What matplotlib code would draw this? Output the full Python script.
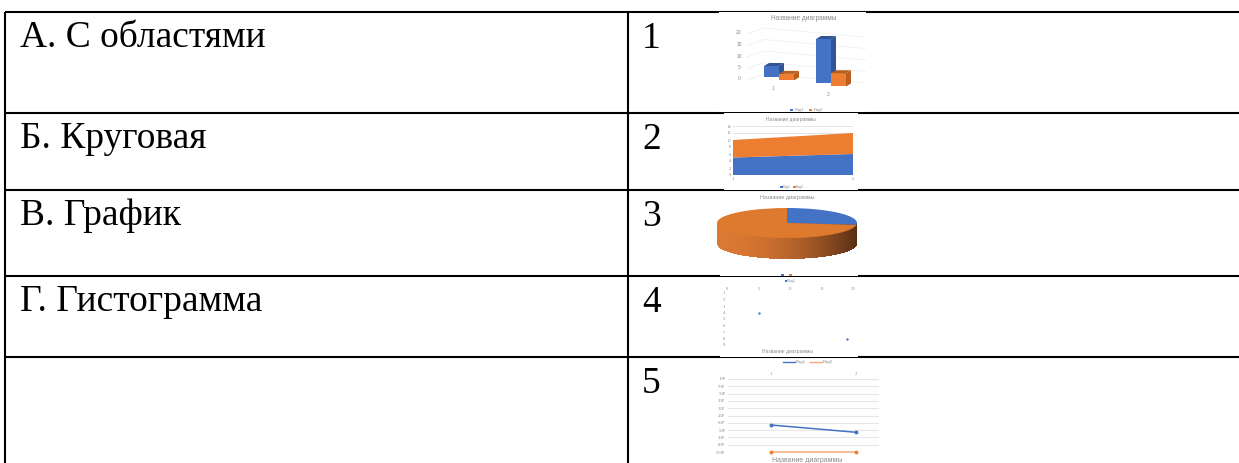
import numpy as np
import matplotlib
matplotlib.use("Agg")
import matplotlib.pyplot as plt
from matplotlib.patches import Rectangle, Polygon, Ellipse

W, H = 1239, 463

row_lines = [12, 113, 190, 276, 357]
col_lines = [5, 628]
left_labels = ["А. С областями", "Б. Круговая", "В. График", "Г. Гистограмма"]
right_labels = ["1", "2", "3", "4", "5"]

chart_title = "Название диаграммы"
series_names = ["Ряд1", "Ряд2"]
bar_ticks = ["20", "15", "10", "5", "0"]
bar_series1 = [5, 20]
bar_series2 = [3, 6]
area_series1 = [5, 6]
area_series2 = [5, 6]
area_ticks = [0, 2, 4, 6, 8, 10, 12, 14]
pie_values = [27, 73]
scatter_x = [5, 19]
scatter_y = [4, 8]
line_ticks = ["10Р", "70Р", "50Р", "30Р", "35Р", "25Р", "60Р", "50Р", "30Р", "80Р", "500Р"]
line_series1 = [6.3, 7.3]
line_series2 = [10, 10]

BLUE = "#4472c4"
ORANGE = "#ed7d31"
GREY = "#8a8a8a"

plt.rcParams["font.family"] = ["Liberation Serif", "DejaVu Serif"]
fig = plt.figure(figsize=(W / 100, H / 100), dpi=100)


def box(x0, y0, x1, y1):
    # axes placed with picture pixels, y going down
    ax = fig.add_axes([x0 / W, 1 - y1 / H, (x1 - x0) / W, (y1 - y0) / H])
    return ax


def pixel_box(x0, y0, x1, y1):
    ax = box(x0, y0, x1, y1)
    ax.set_xlim(x0, x1)
    ax.set_ylim(y1, y0)
    ax.axis("off")
    return ax


def small(x, y, s, size=3.2, color=GREY, ha="center"):
    fig.text(x / W, 1 - y / H, s, fontsize=size, color=color, ha=ha, va="center",
             family=["Liberation Sans", "DejaVu Sans"], zorder=20)


# table
tab = pixel_box(0, 0, W, H)
for y in row_lines:
    tab.plot([col_lines[0], W], [y, y], color="black", lw=1.5, solid_capstyle="butt")
for x in col_lines:
    tab.plot([x, x], [row_lines[0], H], color="black", lw=1.5, solid_capstyle="butt")
for y, s in zip(row_lines, left_labels):
    tab.text(20, y + 35, s, fontsize=27, va="baseline", ha="left", color="black")
for y, s in zip(row_lines, right_labels):
    tab.text(642, y + 36, s, fontsize=27, va="baseline", ha="left", color="black")
# white picture backgrounds sit over the table lines
for x0, y0, x1, y1 in [(719, 12, 866, 112), (724, 113, 858, 190), (720, 192, 858, 276),
                       (720, 277, 858, 357)]:
    tab.add_patch(Rectangle((x0, y0), x1 - x0, y1 - y0, color="white", zorder=5, lw=0))

# 1: 3d bars, faked with flat faces
a1 = pixel_box(719, 12, 866, 112)
small(804, 18, chart_title, 4.7)
for k, s in enumerate(bar_ticks):
    yy = 33 + k * 11.5
    small(739, yy, s, 3.6)
    a1.plot([747, 764, 866], [yy + 1, yy - 5, yy + 4], color="#ededed", lw=0.5)
bar_bottoms = [77, 83]
scale = 2.2
for i, (v1, v2, x) in enumerate(zip(bar_series1, bar_series2, [764, 816])):
    for v, dx, col, dark in [(v1, 0, BLUE, "#2f5597"), (v2, 15, ORANGE, "#b85f20")]:
        b = bar_bottoms[i] + dx * 0.23
        t = b - v * scale
        xx = x + dx
        a1.add_patch(Rectangle((xx, t), 15, b - t, color=col, lw=0, zorder=3))
        a1.add_patch(Polygon([(xx, t), (xx + 5, t - 3), (xx + 20, t - 3), (xx + 15, t)], color=dark, lw=0, zorder=3))
        a1.add_patch(Polygon([(xx + 15, t), (xx + 20, t - 3), (xx + 20, b - 3), (xx + 15, b)], color=dark, lw=0, zorder=3))
small(773, 88, "1", 3.6)
small(828, 95, "2", 3.6)
a1.add_patch(Rectangle((790, 109), 3, 2, color=BLUE, lw=0))
a1.add_patch(Rectangle((809, 109), 3, 2, color=ORANGE, lw=0))
small(799, 110, series_names[0], 3)
small(818, 110, series_names[1], 3)

# 2: stacked area
a2 = box(733, 126, 853, 175)
a2.stackplot([1, 2], area_series1, area_series2, colors=[BLUE, ORANGE], zorder=3)
a2.set_xlim(1, 2)
a2.set_ylim(0, 14)
a2.set_yticks(area_ticks)
a2.set_xticks([1, 2])
a2.tick_params(labelsize=3.3, length=0, pad=1.5, colors=GREY)
a2.grid(axis="y", color="#e3e3e3", lw=0.7)
a2.set_axisbelow(True)
for s in a2.spines.values():
    s.set_visible(False)
small(791, 119, chart_title, 3.5)
leg2 = pixel_box(776, 184, 810, 190)
leg2.add_patch(Rectangle((780, 186), 3, 2, color=BLUE, lw=0))
leg2.add_patch(Rectangle((793, 186), 3, 2, color=ORANGE, lw=0))
small(787, 187, series_names[0], 2.5)
small(800, 187, series_names[1], 2.5)

# 3: pie with a thick edge
a3 = pixel_box(714, 192, 860, 276)
small(787, 197, chart_title, 3.9)
cx, cy, rx, ry = 787, 223, 70, 15
depth = 21
edges = np.linspace(cx - rx, cx + rx, 281)
for x0, x1 in zip(edges[:-1], edges[1:]):
    mid = (x0 + x1) / 2
    u = (mid - (cx - rx)) / (2 * rx)
    low = cy + depth + ry * np.sqrt(max(0, 1 - ((mid - cx) / rx) ** 2))
    shade = (0.86 - 0.52 * u ** 2, 0.47 - 0.29 * u ** 2, 0.2 - 0.12 * u ** 2)
    a3.add_patch(Rectangle((x0, cy), x1 - x0 + 0.2, low - cy, color=shade, lw=0, zorder=2))
a3_top = box(cx - rx, cy - ry, cx + rx, cy + ry)
a3_top.pie(pie_values, colors=[BLUE, "#dd7a2e"], startangle=90, counterclock=False, radius=1.0)
a3_top.set_aspect("auto")
a3_top.set_xlim(-1, 1)
a3_top.set_ylim(-1, 1)
a3_top.axis("off")
a3_top.patch.set_alpha(0)
a3.add_patch(Rectangle((781, 274), 3, 2, color=BLUE, lw=0, zorder=4))
a3.add_patch(Rectangle((789, 274), 3, 2, color=ORANGE, lw=0, zorder=4))

# 4: scatter
a4 = box(727, 293, 853, 345)
a4.scatter(scatter_x, scatter_y, s=3, color=BLUE, lw=0)
a4.set_xlim(0, 20)
a4.set_ylim(9, 1)
a4.set_xticks([0, 5, 10, 15, 20])
a4.set_yticks(range(1, 10))
a4.xaxis.tick_top()
a4.tick_params(labelsize=3.3, length=0, pad=1.5, colors=GREY)
a4.patch.set_alpha(0)
for s in a4.spines.values():
    s.set_visible(False)
small(791, 281, series_names[0], 2.8)
tab.add_patch(Rectangle((785, 280), 2, 2, color=BLUE, lw=0, zorder=6))
small(787, 352, chart_title, 3.6)

# 5: line with reversed axis
a5 = box(728, 379, 879, 452)
a5.plot([1, 2], line_series1, color=BLUE, lw=1.1, marker="o", ms=1.8, clip_on=False)
a5.plot([1, 2], line_series2, color="#f4a97a", lw=1.1, marker="o", ms=1.8, mfc=ORANGE, mec=ORANGE, clip_on=False)
a5.set_xlim(0.494, 2.27)
a5.set_ylim(10, 0)
a5.set_xticks([1, 2])
a5.set_yticks(range(11))
a5.set_yticklabels(line_ticks)
a5.xaxis.tick_top()
a5.tick_params(labelsize=3.3, length=0, pad=2, colors=GREY)
a5.grid(axis="y", color="#e6e6e6", lw=0.8)
a5.set_axisbelow(True)
for s in a5.spines.values():
    s.set_visible(False)
small(807, 461, chart_title, 5)
tab.plot([783, 795], [362, 362], color=BLUE, lw=1)
tab.plot([810, 822], [362, 362], color="#f4a97a", lw=1)
small(801, 362, series_names[0], 3.2)
small(828, 362, series_names[1], 3.2)

fig.savefig("out.png", dpi=100, facecolor="white")
